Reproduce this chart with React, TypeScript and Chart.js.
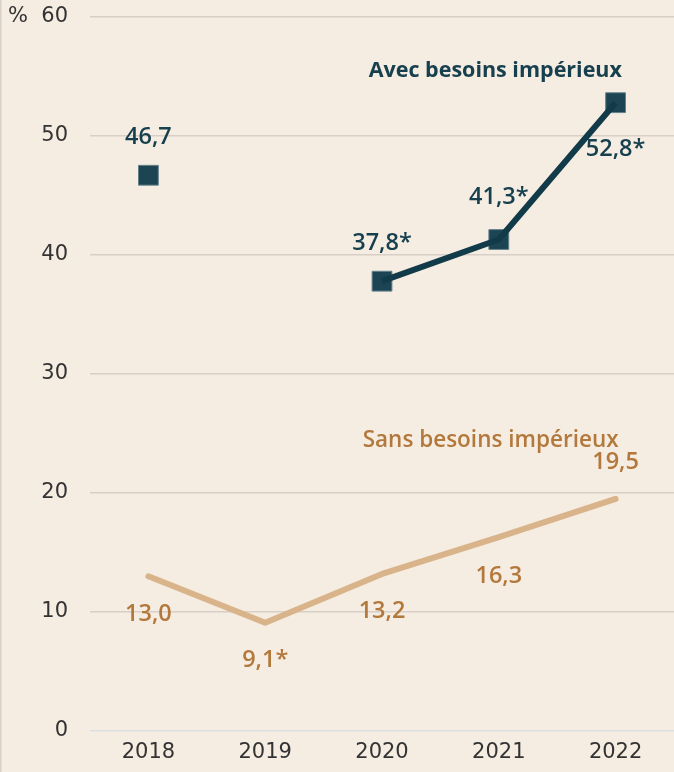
import React, { useEffect, useRef } from "react";
import { Chart, registerables } from "chart.js";

Chart.register(...registerables);

const years = ["2018", "2019", "2020", "2021", "2022"];
const avecValues: (number | null)[] = [46.7, null, 37.8, 41.3, 52.8];
const avecSignificant = [false, false, true, true, true];
const sansValues: (number | null)[] = [13.0, 9.1, 13.2, 16.3, 19.5];
const sansSignificant = [false, true, false, false, false];
const yTicks = [0, 10, 20, 30, 40, 50, 60];
const avecName = "Avec besoins impérieux";
const sansName = "Sans besoins impérieux";

// label vertical offsets in px (style)
const avecLabelDy = [-38, 0, -38, -42, 47];
const sansLabelDy = [38, 38, 37, 39, -37];

const BG = "#f5ece2";
const AVEC = "#17404f";
const SANS_LINE = "#d9b48a";
const SANS_TEXT = "#b3783b";

const fmt = (v: number, sig: boolean) => v.toFixed(1).replace(".", ",") + (sig ? "*" : "");

export default function App() {
  const ref = useRef<HTMLCanvasElement | null>(null);
  useEffect(() => {
    document.body.style.margin = "0";
    const canvas = ref.current!;
    const decor = {
      id: "decor",
      beforeDraw(chart: any) {
        const ctx = chart.ctx;
        ctx.save();
        ctx.fillStyle = BG;
        ctx.fillRect(0, 0, chart.width, chart.height);
        ctx.fillStyle = "#d9d1c8";
        ctx.fillRect(0, 0, 1.5, chart.height);
        ctx.restore();
      },
      afterDatasetsDraw(chart: any) {
        const ctx = chart.ctx;
        const x = chart.scales.x;
        const y = chart.scales.y;
        ctx.save();
        ctx.textAlign = "center";
        ctx.textBaseline = "middle";
        ctx.font = "600 23.5px 'Open Sans'";
        ctx.fillStyle = AVEC;
        avecValues.forEach((v, i) => {
          if (v == null) return;
          ctx.fillText(fmt(v, avecSignificant[i]), x.getPixelForValue(i), y.getPixelForValue(v) + avecLabelDy[i]);
        });
        ctx.fillStyle = SANS_TEXT;
        sansValues.forEach((v, i) => {
          if (v == null) return;
          ctx.fillText(fmt(v, sansSignificant[i]), x.getPixelForValue(i), y.getPixelForValue(v) + sansLabelDy[i]);
        });
        ctx.font = "bold 21.5px 'Open Sans'";
        ctx.fillStyle = AVEC;
        ctx.fillText(avecName, x.getPixelForValue(2.97), y.getPixelForValue(55.5));
        ctx.font = "600 22.5px 'Open Sans'";
        ctx.fillStyle = SANS_TEXT;
        ctx.fillText(sansName, x.getPixelForValue(2.93), y.getPixelForValue(24.4));
        ctx.restore();
      },
    };
    const chart = new Chart(canvas, {
      type: "line",
      data: {
        labels: years,
        datasets: [
          {
            label: sansName,
            data: sansValues,
            borderColor: SANS_LINE,
            borderWidth: 6,
            borderCapStyle: "round",
            borderJoinStyle: "round",
            pointRadius: 0,
            tension: 0,
            order: 3,
          },
          {
            label: avecName + " points",
            data: avecValues,
            showLine: false,
            pointStyle: "rect",
            pointRadius: 14,
            pointBackgroundColor: "#1d4452",
            pointBorderColor: "#62808a",
            pointBorderWidth: 1,
            order: 2,
          },
          {
            label: avecName,
            data: avecValues,
            borderColor: "#123b49",
            borderWidth: 6,
            borderCapStyle: "butt",
            borderJoinStyle: "round",
            pointRadius: 0,
            spanGaps: false,
            tension: 0,
            order: 1,
          },
        ],
      },
      options: {
        animation: false,
        responsive: false,
        maintainAspectRatio: false,
        layout: { autoPadding: false, padding: { top: 17, left: 0, right: 0, bottom: 0 } },
        plugins: { legend: { display: false }, tooltip: { enabled: false } },
        scales: {
          x: {
            offset: true,
            grid: { display: false, drawTicks: false },
            border: { display: false },
            ticks: { color: "#333", font: { family: "DejaVu Sans", size: 21 }, padding: 9 },
            afterFit: (s: any) => { s.height = 41; s.paddingLeft = 0; s.paddingRight = 0; },
          },
          y: {
            min: 0,
            max: 60,
            afterBuildTicks: (s: any) => { s.ticks = yTicks.map((v) => ({ value: v })); },
            grid: {
              color: (c: any) => (c.tick && c.tick.value === 0 ? "#dcdde2" : "#d8d0c6"),
              lineWidth: 1.5,
              drawTicks: false,
            },
            border: { display: false },
            ticks: {
              color: "#333",
              font: { family: "DejaVu Sans", size: 21 },
              padding: 22,
              callback: (v: any) => (v === 60 ? "%  60" : String(v)),
            },
            afterFit: (s: any) => { s.width = 90; s.paddingTop = 0; s.paddingBottom = 0; },
          },
        },
      },
      plugins: [decor],
    } as any);
    return () => chart.destroy();
  }, []);
  return (
    <div style={{ position: "absolute", left: 0, top: 0, width: 674, height: 772, background: BG }}>
      <canvas ref={ref} width={674} height={772} style={{ display: "block" }} />
    </div>
  );
}
